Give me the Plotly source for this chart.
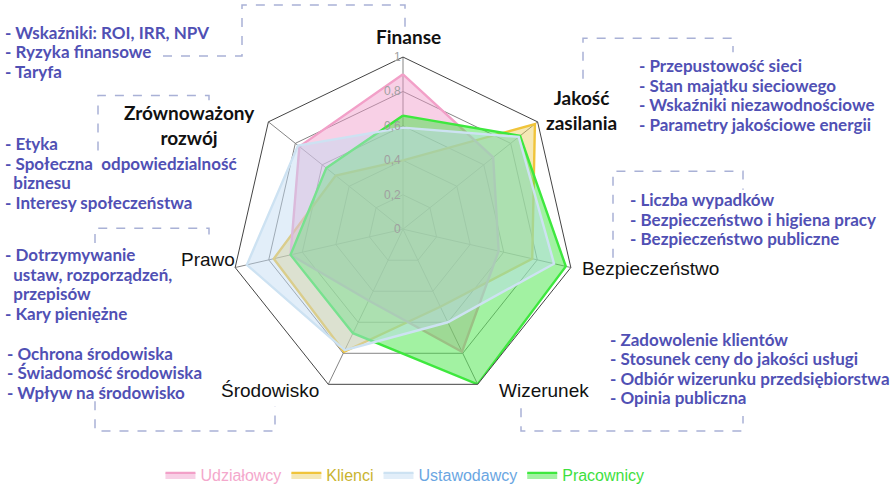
import plotly.graph_objects as go

W, H = 890, 492

categories = ["Finanse", "Jakość zasilania", "Bezpieczeństwo", "Wizerunek",
              "Środowisko", "Prawo", "Zrównoważony rozwój"]

udzialowcy = [0.90, 0.67, 0.57, 0.79, 0.46, 0.67, 0.77]
klienci = [0.40, 0.98, 0.77, 0.50, 0.79, 0.77, 0.50]
ustawodawcy = [0.59, 0.86, 0.90, 0.60, 0.78, 0.93, 0.78]
pracownicy = [0.66, 0.87, 0.97, 1.00, 0.67, 0.67, 0.57]

radial_ticks = [0, 0.2, 0.4, 0.6, 0.8, 1]
radial_tick_text = ["0", "0,2", "0,4", "0,6", "0,8", "1"]

series = [
    # name, values, line colour, fill colour, legend text colour, rank
    ("Klienci", klienci, "#f0c43a", "rgba(230,195,60,0.38)", "#c9b430", 2),
    ("Udziałowcy", udzialowcy, "#f2a0c8", "rgba(240,150,200,0.45)", "#f4a8cc", 1),
    ("Pracownicy", pracownicy, "#3ee83e", "rgba(60,228,60,0.48)", "#3ee03e", 4),
    ("Ustawodawcy", ustawodawcy, "#cde2f2", "rgba(190,218,242,0.45)", "#6aa6e2", 3),
]

fig = go.Figure()
for name, vals, lc, fc, tc, rank in series:
    fig.add_trace(go.Scatterpolar(
        r=vals + vals[:1],
        theta=categories + categories[:1],
        mode="lines",
        fill="toself",
        fillcolor=fc,
        line=dict(color=lc, width=2.4),
        name=f"<span style='color:{tc}'>{name}</span>",
        legendrank=rank,
    ))

cx, cy, R = 403, 233, 175


def px(x, y):
    return x / W, 1 - y / H


dom_x = [(cx - R) / W, (cx + R) / W]
dom_y = [1 - (cy + R) / H, 1 - (cy - R) / H]

# axis labels (black)
axis_labels = [
    ("<b>Finanse</b>", 408, 37, "Lato", 19),
    ("<b>Jakość<br>zasilania</b>", 581, 112, "Lato", 19),
    ("Bezpieczeństwo", 650, 273, "Liberation Sans", 19),
    ("Wizerunek", 544, 397, "Liberation Sans", 19),
    ("Środowisko", 270, 397, "Liberation Sans", 19),
    ("Prawo", 208, 264, "Liberation Sans", 19),
    ("<b>Zrównoważony<br>rozwój</b>", 189, 127, "Lato", 19),
]

# description blocks (blue), left edge x, first line centre y, lines
desc_blocks = [
    (3, 33, ["- Wskaźniki: ROI, IRR, NPV", "- Ryzyka finansowe", "- Taryfa"]),
    (3, 146, ["- Etyka", "- Społeczna  odpowiedzialność", "  biznesu",
              "- Interesy społeczeństwa"]),
    (3, 259, ["- Dotrzymywanie", "  ustaw, rozporządzeń,", "  przepisów",
              "- Kary pieniężne"]),
    (5, 359, ["- Ochrona środowiska", "- Świadomość środowiska",
              "- Wpływ na środowisko"]),
    (637, 67, ["- Przepustowość sieci", "- Stan majątku sieciowego",
               "- Wskaźniki niezawodnościowe", "- Parametry jakościowe energii"]),
    (628, 203, ["- Liczba wypadków", "- Bezpieczeństwo i higiena pracy",
                "- Bezpieczeństwo publiczne"]),
    (608, 345, ["- Zadowolenie klientów", "- Stosunek ceny do jakości usługi",
                "- Odbiór wizerunku przedsiębiorstwa", "- Opinia publiczna"]),
]
line_gap = 19.8

brackets = [
    [(163, 57), (242, 57), (242, 5), (405, 5), (405, 28)],
    [(98, 153), (98, 97), (209, 97), (209, 106)],
    [(95, 247), (95, 232), (209, 232), (209, 247)],
    [(95, 408), (95, 438), (275, 438), (275, 413)],
    [(583, 80), (583, 39), (733, 39), (733, 53)],
    [(613, 262), (613, 174), (743, 174), (743, 193)],
    [(521, 415), (521, 438), (743, 438), (743, 423)],
]

annotations = []
for text, x, y, fam, size in axis_labels:
    ax, ay = px(x, y)
    annotations.append(dict(text=text, x=ax, y=ay, xref="paper", yref="paper",
                            showarrow=False, xanchor="center", yanchor="middle",
                            font=dict(family=fam, size=size, color="#111111")))

for x0, y0, lines in desc_blocks:
    for i, ln in enumerate(lines):
        ax, ay = px(x0, y0 + i * line_gap)
        annotations.append(dict(text="<b>" + ln.replace("  ", "&nbsp;&nbsp;") + "</b>",
                                x=ax, y=ay, xref="paper", yref="paper",
                                showarrow=False, xanchor="left", yanchor="middle",
                                font=dict(family="Lato", size=17, color="#5050b4")))

shapes = []
for pts in brackets:
    path = ""
    for i, (x, y) in enumerate(pts):
        a, b = px(x, y)
        path += ("M" if i == 0 else "L") + f" {a:.5f} {b:.5f} "
    shapes.append(dict(type="path", path=path.strip(), xref="paper", yref="paper",
                       line=dict(color="#a9b1d6", width=1.5, dash="dash")))

fig.update_layout(
    width=W, height=H,
    margin=dict(l=0, r=0, t=0, b=0),
    paper_bgcolor="white",
    showlegend=True,
    legend=dict(orientation="h", x=0.455, xanchor="center", y=1 - 483 / H,
                yanchor="middle", font=dict(family="Liberation Sans", size=16),
                bgcolor="rgba(0,0,0,0)", itemwidth=30, tracegroupgap=0),
    annotations=annotations,
    shapes=shapes,
    polar=dict(
        domain=dict(x=dom_x, y=dom_y),
        bgcolor="white",
        gridshape="linear",
        radialaxis=dict(range=[0, 1], tickvals=radial_ticks, ticktext=radial_tick_text,
                        angle=90, tickangle=90, side="counterclockwise",
                        showline=False, ticks="",
                        gridcolor="#858585", gridwidth=1,
                        tickfont=dict(family="Liberation Sans", size=12, color="#a0a0a0")),
        angularaxis=dict(rotation=90, direction="clockwise", showticklabels=False,
                         ticks="", gridcolor="#858585", gridwidth=1,
                         showline=True, linecolor="#444444", linewidth=1),
    ),
)

fig.write_html("out.html", config={"displayModeBar": False},
               post_script="document.body.style.margin='0';document.body.style.overflow='hidden';")
